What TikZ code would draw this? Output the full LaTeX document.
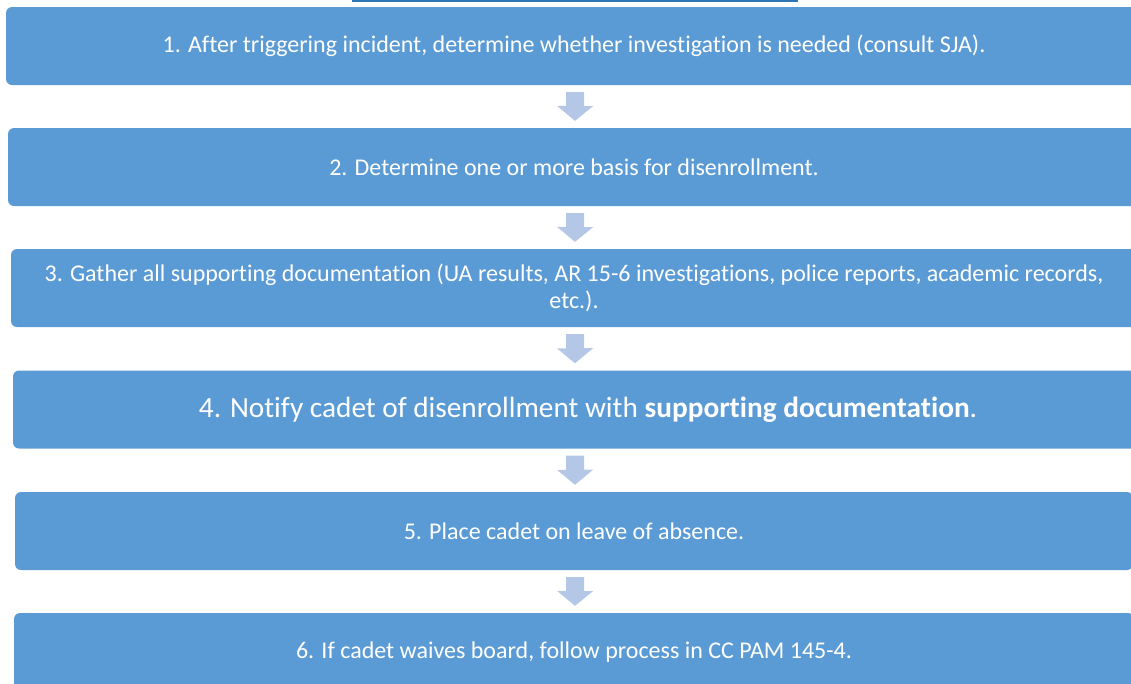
\documentclass[tikz,border=0pt]{standalone}
\usepackage{fontspec}
\setmainfont[Ligatures={NoCommon,NoContextual},Contextuals=NoAlternate]{Carlito}
\usepackage{tikz}
\usetikzlibrary{positioning}
\definecolor{boxblue}{HTML}{5B9BD5}
\definecolor{arrowblue}{HTML}{B4C7E7}
\definecolor{lineblue}{HTML}{2E75B6}

\begin{document}
\begin{tikzpicture}
  [x=1pt,y=-1pt,
   every node/.style={rectangle,rounded corners=6pt,fill=boxblue,text=white,
     inner sep=0pt,minimum height=78pt,align=center,font=\fontsize{24}{27}\selectfont},
   downarrow/.style={fill=arrowblue}]

  \useasboundingbox (0,0) rectangle (1131,683);
  \clip (0,0) rectangle (1131,683);

  \draw[lineblue,line width=2pt] (352,1) -- (798,1);

  \node[minimum width=1136pt] (s1) at (574,46)
    {1. After triggering incident, determine whether investigation is needed (consult SJA).};
  \node[minimum width=1132pt] (s2) at (574,167)
    {2. Determine one or more basis for disenrollment.};
  \node[minimum width=1126pt] (s3) at (574,288)
    {3. Gather all supporting documentation (UA results, AR 15-6 investigations, police reports, academic records,\\ etc.).};
  \node[minimum width=1150pt,font=\fontsize{29.3}{33}\selectfont] (s4) at (588,409.5)
    {4. Notify cadet of disenrollment with \textbf{supporting documentation}.};
  \node[minimum width=1118pt] (s5) at (574,531)
    {5. Place cadet on leave of absence.};
  \node[minimum width=1120pt] (s6) at (574,652)
    {6. If cadet waives board, follow process in CC PAM 145-4.};

  \foreach \a/\b in {s1/s2,s2/s3,s3/s4,s4/s5,s5/s6}
    \fill[downarrow] ([xshift=-8pt,yshift=-7pt]\a.south -| s1.south) -- ++(18pt,0) -- ++(0,-14pt) -- ++(9pt,0)
      -- ([xshift=1pt,yshift=7pt]\b.north -| s1.south) -- ++(-18pt,15pt) -- ++(9pt,0) -- ++(0,14pt) -- cycle;
\end{tikzpicture}
\end{document}
